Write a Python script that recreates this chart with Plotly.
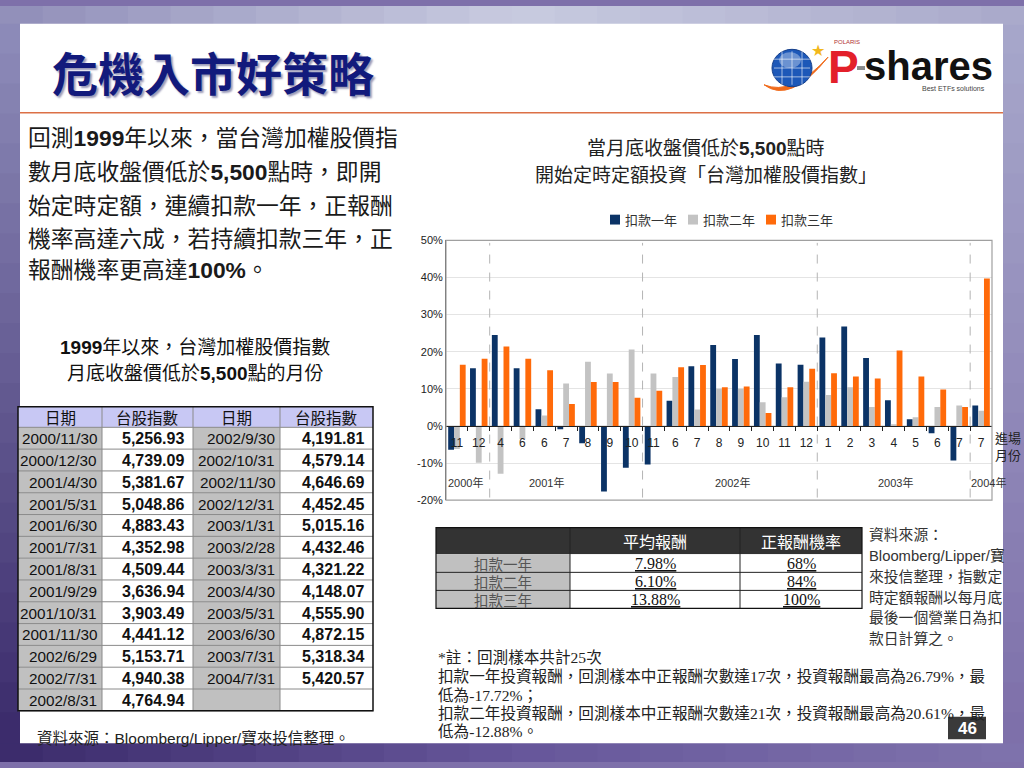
import plotly.graph_objects as go

# ---------------- data ----------------
months = ["11", "12", "4", "6", "6", "7", "8", "9", "10", "11", "6", "7", "8",
          "9", "10", "11", "12", "1", "2", "3", "4", "5", "6", "7", "7"]
year_labels = ["2000年", "2001年", "2002年", "2003年", "2004年"]
year_label_pos = [0.37, 4.08, 12.64, 20.06, 24.36]
year_breaks = [1.5, 8.5, 16.5, 23.5]

series_names = ["扣款一年", "扣款二年", "扣款三年"]
ret_1y = [-6.4, 15.5, 24.5, 15.5, 4.5, -0.9, -4.7, -17.7, -11.3, -10.4, 6.8, 16.1, 21.8,
          18.0, 24.5, 16.8, 16.5, 23.8, 26.8, 18.3, 6.9, 1.8, -2.0, -9.3, 5.5]
ret_2y = [-6.2, -9.9, -12.9, -3.5, 2.8, 11.4, 17.3, 14.1, 20.6, 14.1, 13.2, 4.4, 10.0,
          10.0, 6.4, 7.7, 11.9, 8.3, 10.4, 5.1, 0.3, 2.3, 5.1, 5.5, 4.1]
ret_3y = [16.5, 18.1, 21.4, 18.1, 15.0, 5.9, 11.8, 11.8, 7.6, 9.5, 15.8, 16.4, 10.4,
          10.6, 3.5, 10.4, 15.4, 14.2, 13.3, 12.8, 20.3, 13.3, 9.8, 5.1, 39.7]
series_colors = ["#0b3366", "#c3c3c3", "#ff6a0a"]

y_ticks = [-20, -10, 0, 10, 20, 30, 40, 50]

# left table
tbl_dates_a = ["2000/11/30", "2000/12/30", "2001/4/30", "2001/5/31", "2001/6/30", "2001/7/31",
               "2001/8/31", "2001/9/29", "2001/10/31", "2001/11/30", "2002/6/29", "2002/7/31",
               "2002/8/31"]
tbl_index_a = ["5,256.93", "4,739.09", "5,381.67", "5,048.86", "4,883.43", "4,352.98",
               "4,509.44", "3,636.94", "3,903.49", "4,441.12", "5,153.71", "4,940.38",
               "4,764.94"]
tbl_dates_b = ["2002/9/30", "2002/10/31", "2002/11/30", "2002/12/31", "2003/1/31", "2003/2/28",
               "2003/3/31", "2003/4/30", "2003/5/31", "2003/6/30", "2003/7/31", "2004/7/31", ""]
tbl_index_b = ["4,191.81", "4,579.14", "4,646.69", "4,452.45", "5,015.16", "4,432.46",
               "4,321.22", "4,148.07", "4,555.90", "4,872.15", "5,318.34", "5,420.57", ""]
tbl_header = ["日期", "台股指數", "日期", "台股指數"]

# summary table
sum_header = ["", "平均報酬", "正報酬機率"]
sum_avg = ["7.98%", "6.10%", "13.88%"]
sum_prob = ["68%", "84%", "100%"]

W, H = 1024, 768
CJK = "Noto Sans CJK TC"
SANS = "Liberation Sans, Noto Sans CJK TC"
SERIF = "Liberation Serif, Noto Sans CJK TC"


def X(px):
    return px / W


def Y(py):
    return 1 - py / H


def hex2rgb(h):
    h = h.lstrip("#")
    return [int(h[i:i + 2], 16) for i in (0, 2, 4)]


def lerp(c1, c2, t):
    a, b = hex2rgb(c1), hex2rgb(c2)
    return "rgb(%d,%d,%d)" % tuple(round(a[i] + (b[i] - a[i]) * t) for i in range(3))


def lerp3(c1, c2, c3, t):
    return lerp(c1, c2, t * 2) if t < 0.5 else lerp(c2, c3, (t - 0.5) * 2)


shapes = []
annotations = []


def rect(x0, y0, x1, y1, fill, line=None, lw=0, layer="below"):
    shapes.append(dict(type="rect", xref="paper", yref="paper",
                       x0=X(x0), x1=X(x1), y0=Y(y1), y1=Y(y0),
                       fillcolor=fill, line=dict(color=line or fill, width=lw), layer=layer))


def hline(x0, x1, y, color, w=1, layer="above"):
    shapes.append(dict(type="line", xref="paper", yref="paper", x0=X(x0), x1=X(x1),
                       y0=Y(y), y1=Y(y), line=dict(color=color, width=w), layer=layer))


def vline(x, y0, y1, color, w=1, layer="above"):
    shapes.append(dict(type="line", xref="paper", yref="paper", x0=X(x), x1=X(x),
                       y0=Y(y0), y1=Y(y1), line=dict(color=color, width=w), layer=layer))


def text(x, y, s, size, color="#222", family=SANS, xanchor="left", align="left", **kw):
    annotations.append(dict(x=X(x), y=Y(y), xref="paper", yref="paper", text=s,
                            showarrow=False, xanchor=xanchor, yanchor="middle", align=align,
                            font=dict(size=size, color=color, family=family, **kw)))


# ---------------- background ----------------
N = 24
for i in range(N):
    t = i / (N - 1)
    rect(i * W / N, 0, (i + 1) * W / N + 1, 19, lerp3("#9290ba", "#c8cbe0", "#aaaacb", t))
    rect(i * W / N, 748, (i + 1) * W / N + 1, 768, lerp3("#3c2c6c", "#66569a", "#7e72ac", t))
    rect(0, 18 + i * 730 / N, 21, 18 + (i + 1) * 730 / N + 1, lerp("#8c8ab8", "#3c2c6c", t))
    rect(1002, 18 + i * 730 / N, 1024, 18 + (i + 1) * 730 / N + 1, lerp("#a6a6ca", "#7e70aa", t))

rect(20, 18, 1003, 749, "white")
hline(20, 1003, 108.5, "#dc7046", 1.5, layer="below")

# ---------------- title & logo ----------------
text(50, 66, "<b>危機入市好策略</b>", 46, color="#121a7c", family=CJK,
     shadow="2px 2px 2px #9a9ab8")

shapes.append(dict(type="path", xref="paper", yref="paper",
                   path="M %f,%f Q %f,%f %f,%f Q %f,%f %f,%f Z" % (
                       X(764), Y(80), X(790), Y(100), X(828), Y(52),
                       X(792), Y(92), X(764), Y(80)),
                   fillcolor="#f06a1a", line=dict(color="#f06a1a", width=1)))
shapes.append(dict(type="circle", xref="paper", yref="paper", x0=X(772), x1=X(812),
                   y0=Y(82), y1=Y(44), fillcolor="#1d58b8", line=dict(color="#163f8a", width=1)))
shapes.append(dict(type="circle", xref="paper", yref="paper", x0=X(779), x1=X(801),
                   y0=Y(63), y1=Y(47), fillcolor="rgba(255,255,255,0.35)", line=dict(width=0)))
for gx in [782, 792, 802]:
    shapes.append(dict(type="line", xref="paper", yref="paper", x0=X(gx), x1=X(gx),
                       y0=Y(80), y1=Y(46), line=dict(color="rgba(255,255,255,0.6)", width=1)))
for gy in [54, 63, 72]:
    shapes.append(dict(type="line", xref="paper", yref="paper", x0=X(774), x1=X(810),
                       y0=Y(gy), y1=Y(gy), line=dict(color="rgba(255,255,255,0.6)", width=1)))
text(818, 45, "★", 16, color="#f2b81c", xanchor="center", family="DejaVu Sans")
text(832, 37, "POLARIS", 6, color="#b03030", family="Liberation Sans")
text(826, 62, "<b>P</b>", 46, color="#e3202a", family="Liberation Sans")
rect(857, 61, 865, 65, "#8a8a8a", layer="above")
text(862, 61, "<b>shares</b>", 40, color="#111", family="Liberation Sans")
text(987, 84, "Best ETFs solutions", 7, color="#444", xanchor="right", family="Liberation Sans")

# ---------------- left paragraph ----------------
para = ["回測<b>1999</b>年以來，當台灣加權股價指",
        "數月底收盤價低於<b>5,500</b>點時，即開",
        "始定時定額，連續扣款一年，正報酬",
        "機率高達六成，若持續扣款三年，正",
        "報酬機率更高達<b>100%</b>。"]
for s, yy in zip(para, [134, 169, 203, 237, 268]):
    text(26, yy, s, 22.8, color="#1a1a1a")

text(195, 347, "<b>1999</b>年以來，台灣加權股價指數", 19, color="#111", xanchor="center")
text(195, 373, "月底收盤價低於<b>5,500</b>點的月份", 19, color="#111", xanchor="center")

text(35, 744, "資料來源：Bloomberg/Lipper/寶來投信整理。", 15.5, color="#222")

# ---------------- chart texts ----------------
text(706, 145, "當月底收盤價低於<b>5,500</b>點時", 19, color="#222", xanchor="center")
text(706, 172, "開始定時定額投資「台灣加權股價指數」", 19, color="#222", xanchor="center")

leg_x = [610, 688, 766]
for lx, nm, col in zip(leg_x, series_names, series_colors):
    rect(lx, 212, lx + 10, 222, col, layer="above")
    text(lx + 13, 217, nm, 13, color="#333", family=CJK)

text(1008, 447, "進場<br>月份", 13, color="#222", family=CJK, xanchor="center", align="center")

# ---------------- bar chart ----------------
xs = list(range(len(months)))
fig = go.Figure()
for nm, vals, col in zip(series_names, [ret_1y, ret_2y, ret_3y], series_colors):
    fig.add_trace(go.Bar(x=xs, y=vals, name=nm, marker=dict(color=col, line=dict(width=0)),
                         showlegend=False))

ydom = [Y(502), Y(238)]
yr = [-20, 50]
zero_pos = ydom[0] + (0 - yr[0]) / (yr[1] - yr[0]) * (ydom[1] - ydom[0])

for xb in year_breaks:
    shapes.append(dict(type="line", xref="x", yref="y domain", x0=xb, x1=xb, y0=0.01, y1=0.99,
                       line=dict(color="#b4b4b4", width=1, dash="dash"), layer="above"))
shapes.append(dict(type="rect", xref="x domain", yref="y domain", x0=0, x1=1, y0=0, y1=1,
                   line=dict(color="#a0a0a0", width=1.2), fillcolor="rgba(0,0,0,0)", layer="above"))

for lbl, xp in zip(year_labels, year_label_pos):
    annotations.append(dict(x=xp, y=-15.3, xref="x", yref="y", text=lbl, showarrow=False,
                            xanchor="center", yanchor="middle",
                            font=dict(size=11, color="#333", family=SANS)))

# ---------------- left table (built from the arrays) ----------------
col_edges = [18, 102, 193, 280, 373]
t_top, head_h = 407, 21
n_rows = len(tbl_dates_a)
row_h = (716 - (t_top + head_h)) / n_rows
t_bot = t_top + head_h + n_rows * row_h
columns = [tbl_dates_a, tbl_index_a, tbl_dates_b, tbl_index_b]
col_fill = ["#c0c0c0", "white", "#c0c0c0", "white"]

for c in range(4):
    rect(col_edges[c], t_top, col_edges[c + 1], t_top + head_h, "#c8c8f4")
    text((col_edges[c] + col_edges[c + 1]) / 2, t_top + head_h / 2 + 0.5, tbl_header[c], 15.5,
         color="#111", family=CJK, xanchor="center")
    for r, v in enumerate(columns[c]):
        y0 = t_top + head_h + r * row_h
        rect(col_edges[c], y0, col_edges[c + 1], y0 + row_h, col_fill[c])
        if not v:
            continue
        if c % 2 == 0:
            text(col_edges[c + 1] - 3, y0 + row_h / 2 + 0.5, v, 15.3, color="#111",
                 family="Liberation Sans", xanchor="right")
        else:
            text(col_edges[c + 1] - 7, y0 + row_h / 2 + 0.5, "<b>%s</b>" % v, 16, color="#111",
                 family="Liberation Sans", xanchor="right")
for r in range(n_rows + 1):
    hline(col_edges[0], col_edges[-1], t_top + head_h + r * row_h, "#8a8a8a", 1)
for ce in col_edges[1:-1]:
    vline(ce, t_top, t_bot, "#8a8a8a", 1)
rect(col_edges[0], t_top, col_edges[-1], t_bot, "rgba(0,0,0,0)", line="#111", lw=1.5,
     layer="above")

# ---------------- summary table ----------------
s_edges = [436, 570, 740, 862]
s_top, s_head = 530, 27
s_rows = len(series_names)
s_row_h = (612 - (s_top + s_head)) / s_rows
s_cols = [series_names, sum_avg, sum_prob]
s_fill = ["#c0c0c0", "white", "white"]
for c in range(3):
    rect(s_edges[c], s_top, s_edges[c + 1], s_top + s_head, "#333333")
    if sum_header[c]:
        text((s_edges[c] + s_edges[c + 1]) / 2, s_top + s_head / 2, sum_header[c], 16,
             color="white", family=CJK, xanchor="center")
    for r, v in enumerate(s_cols[c]):
        y0 = s_top + s_head + r * s_row_h
        rect(s_edges[c], y0, s_edges[c + 1], y0 + s_row_h, s_fill[c])
        if c == 0:
            text((s_edges[c] + s_edges[c + 1]) / 2, y0 + s_row_h / 2 + 0.5, v, 14.5,
                 color="#555", family=CJK, xanchor="center")
        else:
            text((s_edges[c] + s_edges[c + 1]) / 2, y0 + s_row_h / 2 + 0.5, v, 16,
                 color="#111", family=SERIF, xanchor="center", lineposition="under")
for r in range(1, s_rows):
    hline(s_edges[0], s_edges[-1], s_top + s_head + r * s_row_h, "#222", 1)
for ce in s_edges[1:-1]:
    vline(ce, s_top, 612, "#222", 1)
rect(s_edges[0], s_top, s_edges[-1], 612, "rgba(0,0,0,0)", line="#111", lw=1.2, layer="above")

# right source text
src = ["資料來源：", "Bloomberg/Lipper/寶", "來投信整理，指數定", "時定額報酬以每月底",
       "最後一個營業日為扣", "款日計算之。"]
for s, yy in zip(src, [537, 558, 580, 601, 622, 643]):
    text(867, yy, s, 14.8, color="#333")

notes = ["*註：回測樣本共計25次",
         "扣款一年投資報酬，回測樣本中正報酬次數達17次，投資報酬最高為26.79%，最",
         "低為-17.72%；",
         "扣款二年投資報酬，回測樣本中正報酬次數達21次，投資報酬最高為20.61%，最",
         "低為-12.88%。"]
for s, yy in zip(notes, [662, 681, 700, 719, 737]):
    text(436, yy, s, 15.6, color="#222", family=SERIF)

rect(948, 722, 986, 745, "#3a3a3a", layer="above")
text(967, 733.5, "<b>46</b>", 17, color="white", family="Liberation Sans", xanchor="center")

fig.update_layout(
    width=W, height=H, margin=dict(l=0, r=0, t=0, b=0),
    paper_bgcolor="#7e70aa", plot_bgcolor="rgba(0,0,0,0)",
    barmode="group", bargap=0.2, bargroupgap=0,
    showlegend=False,
    xaxis=dict(domain=[X(446), X(992)], range=[-0.5, len(months) - 0.5],
               anchor="free", position=zero_pos,
               tickmode="array", tickvals=xs, ticktext=months, ticks="", ticklen=0,
               ticklabelstandoff=6,
               tickfont=dict(size=12, color="#222", family=SANS),
               showgrid=False, zeroline=False,
               showline=True, linecolor="#222", linewidth=1,
               minor=dict(tickmode="array", tickvals=[i + 0.5 for i in xs[:-1]],
                          ticks="outside", ticklen=4, tickcolor="#222", showgrid=False)),
    yaxis=dict(domain=ydom, range=yr, tickmode="array", tickvals=y_ticks,
               ticktext=["%d%%" % v for v in y_ticks],
               tickfont=dict(size=11, color="#222", family=SANS),
               showgrid=True, gridcolor="#e4e4e4", gridwidth=1, zeroline=False,
               showline=True, linecolor="#555", linewidth=1, ticks=""),
    shapes=shapes, annotations=annotations,
    font=dict(family=SANS),
)

fig.write_html("out.html", config={"displayModeBar": False},
               post_script="document.body.style.margin='0';document.body.style.overflow='hidden';")
